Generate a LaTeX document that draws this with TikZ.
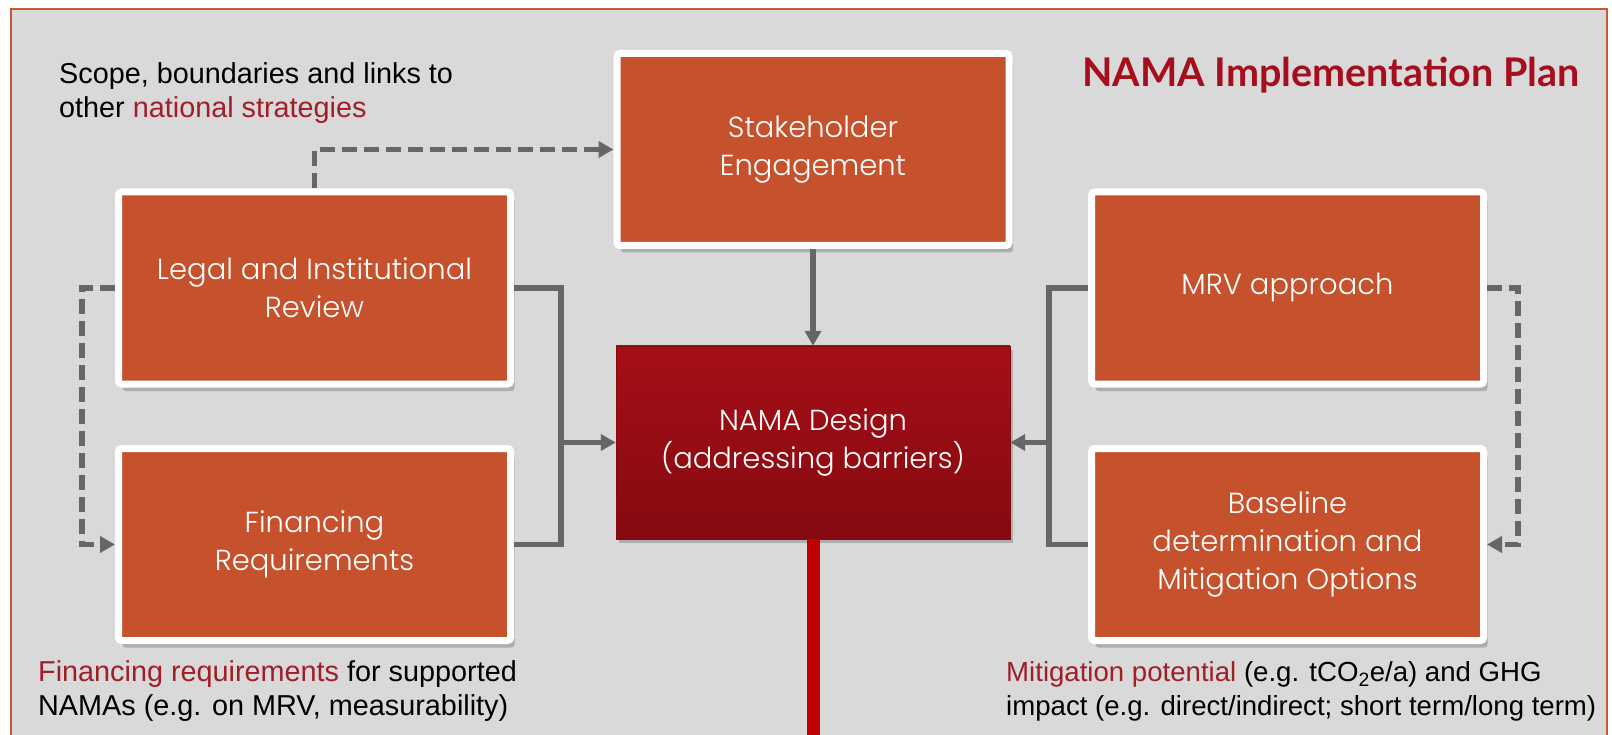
\documentclass[tikz,border=0pt]{standalone}
\usepackage{fontspec}
\setmainfont{Liberation Sans}
\IfFontExistsTF{Poppins Light}{\newfontfamily\boxfont{Poppins Light}}{\newfontfamily\boxfont{Poppins}}
\newfontfamily\titlefont{Lato}
\usetikzlibrary{arrows.meta,shadows}

\definecolor{framered}{HTML}{C55A2F}
\definecolor{panelgray}{HTML}{D9D9D9}
\definecolor{boxorange}{HTML}{C5522D}
\definecolor{designtop}{HTML}{A60E17}
\definecolor{designbot}{HTML}{850A10}
\definecolor{linkgray}{HTML}{666666}
\definecolor{notered}{HTML}{A01E28}
\definecolor{titlered}{HTML}{A50F1D}
\definecolor{spinered}{HTML}{C00000}

\tikzset{
  stepbox/.style={draw=white, line width=7pt, rounded corners=3pt, fill=boxorange,
    minimum width=392pt, minimum height=192pt, inner sep=0pt, outer sep=3.5pt,
    text=white, align=center, font=\boxfont\fontsize{29}{38}\selectfont,
    drop shadow={shadow xshift=4pt, shadow yshift=-7pt, opacity=0.3, fill=black!70}},
  designbox/.style={top color=designtop, bottom color=designbot, draw=designbot,
    minimum width=394pt, minimum height=193pt, inner sep=0pt,
    text=white, align=center, font=\boxfont\fontsize{29}{38}\selectfont,
    drop shadow={shadow xshift=3pt, shadow yshift=-4pt, opacity=0.3, fill=black!70}},
  note/.style={align=left, inner sep=0pt, font=\fontsize{28.8}{34}\selectfont},
  link/.style={draw=linkgray, line width=5.5pt},
  dashlink/.style={link, dash pattern=on 15pt off 7pt},
  arr/.style={-{Triangle[length=15pt,width=16pt]}}
}

\begin{document}
\begin{tikzpicture}[x=1pt,y=-1pt]
  \useasboundingbox (0,0) rectangle (1612,735);
  \clip (0,0) rectangle (1612,735);
  \fill[white] (0,0) rectangle (1612,735);
  % panel
  \draw[framered, line width=1.5pt, fill=panelgray] (11,9) rectangle (1607,790);

  \node[text=titlered, font=\titlefont\bfseries\fontsize{39.5}{44}\selectfont] (title) at (1331,75) {NAMA Implementation Plan};

  % boxes
  \node[stepbox] (stake) at (813,149.5) {Stakeholder\\Engagement};
  \node[stepbox] (legal) at (314.5,288) {Legal and Institutional\\Review};
  \node[stepbox] (fin) at (314.5,544.5) {Financing\\Requirements};
  \node[stepbox] (mrv) at (1287.5,288) {MRV approach};
  \node[stepbox] (base) at (1287.5,544.5) {Baseline\\determination and\\Mitigation Options};
  \node[designbox] (design) at (813,442.5) {NAMA Design\\(addressing barriers)};

  % notes
  \node[note, anchor=west] (scopenote) at (59,93) {Scope, boundaries and links to\\other \textcolor{notered}{national strategies}};
  \node[note, anchor=west] (finnote) at (38,691) {\textcolor{notered}{Financing requirements} for supported\\NAMAs (e.g. on MRV, measurability)};
  \node[note, anchor=west, font=\fontsize{27.6}{34}\selectfont] (mitnote) at (1006,691) {\textcolor{notered}{Mitigation potential} (e.g. tCO\textsubscript{2}e/a) and GHG\\impact (e.g. direct/indirect; short term/long term)};

  % connectors
  \coordinate (jl) at (561,442.5);
  \coordinate (jr) at (1049,442.5);
  \coordinate (dl) at (82,415);
  \coordinate (dr) at (1518,415);
  \coordinate (spineend) at (813,745);

  \draw[spinered, line width=13pt] (design.south) -- (spineend);
  \draw[link] (legal.east) -| (jl) |- (fin.east);
  \draw[link,arr] (jl) -- (design.west);
  \draw[link] (mrv.west) -| (jr) |- (base.west);
  \draw[link,arr] (jr) -- (design.east);
  \draw[link,arr] (stake.south) -- (design.north);
  \draw[dashlink,arr] (legal.north) |- (stake.west);
  \draw[dashlink,arr] (legal.west) -| (dl) |- (fin.west);
  \draw[dashlink,arr] (mrv.east) -| (dr) |- (base.east);
\end{tikzpicture}
\end{document}
